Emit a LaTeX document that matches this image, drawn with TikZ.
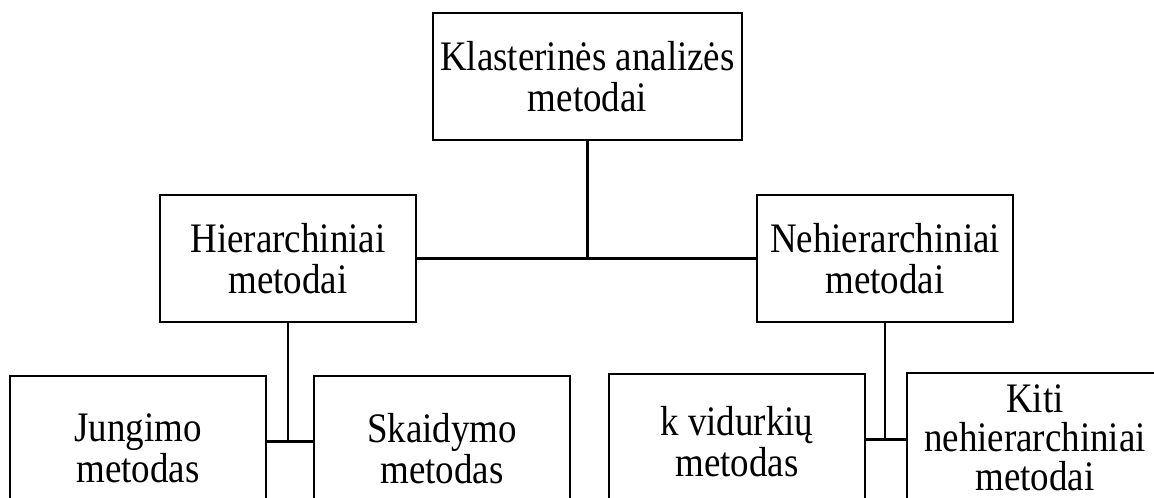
\documentclass[tikz,border=0pt]{standalone}
\usepackage{fontspec}
\setmainfont{Liberation Serif}[FakeStretch=0.88]
\usetikzlibrary{positioning}

\begin{document}
\begin{tikzpicture}[
        x=1pt, y=1pt,
        node distance=182pt,
        box/.style={rectangle, minimum width=256pt, minimum height=127pt, text centered, align=center, draw=black, line width=2.5pt,
                    font=\fontsize{42}{41}\selectfont},
        topbox/.style={box, minimum width=309pt},
        leafbox/.style={box, minimum height=145pt},
        link/.style={draw=black, line width=2.5pt}
        ]

        \useasboundingbox (0,0) rectangle (1154,-498);
        \clip (0,0) rectangle (1154,-498);

        \node (top)    [topbox]  at (587.5,-76.5)                            {Klasterinės analizės\\metodai};
        \node (hier)   [box, below of=top, xshift=-299.5pt]                  {Hierarchiniai\\metodai};
        \node (nehier) [box, below of=top, xshift=297.5pt]                   {Nehierarchiniai\\metodai};

        \node (jung)   [leafbox, below of=hier, xshift=-150pt, yshift=-8pt]   {Jungimo\\metodas};
        \node (skaid)  [leafbox, below of=hier, xshift=154pt, yshift=-8pt]    {Skaidymo\\metodas};
        \node (kvid)   [leafbox, minimum height=136pt, below of=nehier, xshift=-148pt, yshift=-1.5pt] {k vidurkių\\metodas};
        \node (kiti)   [leafbox, minimum height=130pt, font=\fontsize{42}{39}\selectfont,
                        below of=nehier, xshift=150pt, yshift=2.5pt]  {Kiti\\nehierarchiniai\\metodai};

        % top level
        \draw [link] (top.south) -- (top.south |- hier.east);
        \draw [link] (hier.east) -- (nehier.west);

        % hierarchiniai
        \draw [link] (hier.south) -- ++(0,-118) coordinate (hjoin);
        \draw [link] (jung.east |- hjoin) -- (skaid.west |- hjoin);

        % nehierarchiniai
        \draw [link] (nehier.south) -- ++(0,-116) coordinate (njoin);
        \draw [link] (kvid.east |- njoin) -- (kiti.west |- njoin);

    \end{tikzpicture}
\end{document}
